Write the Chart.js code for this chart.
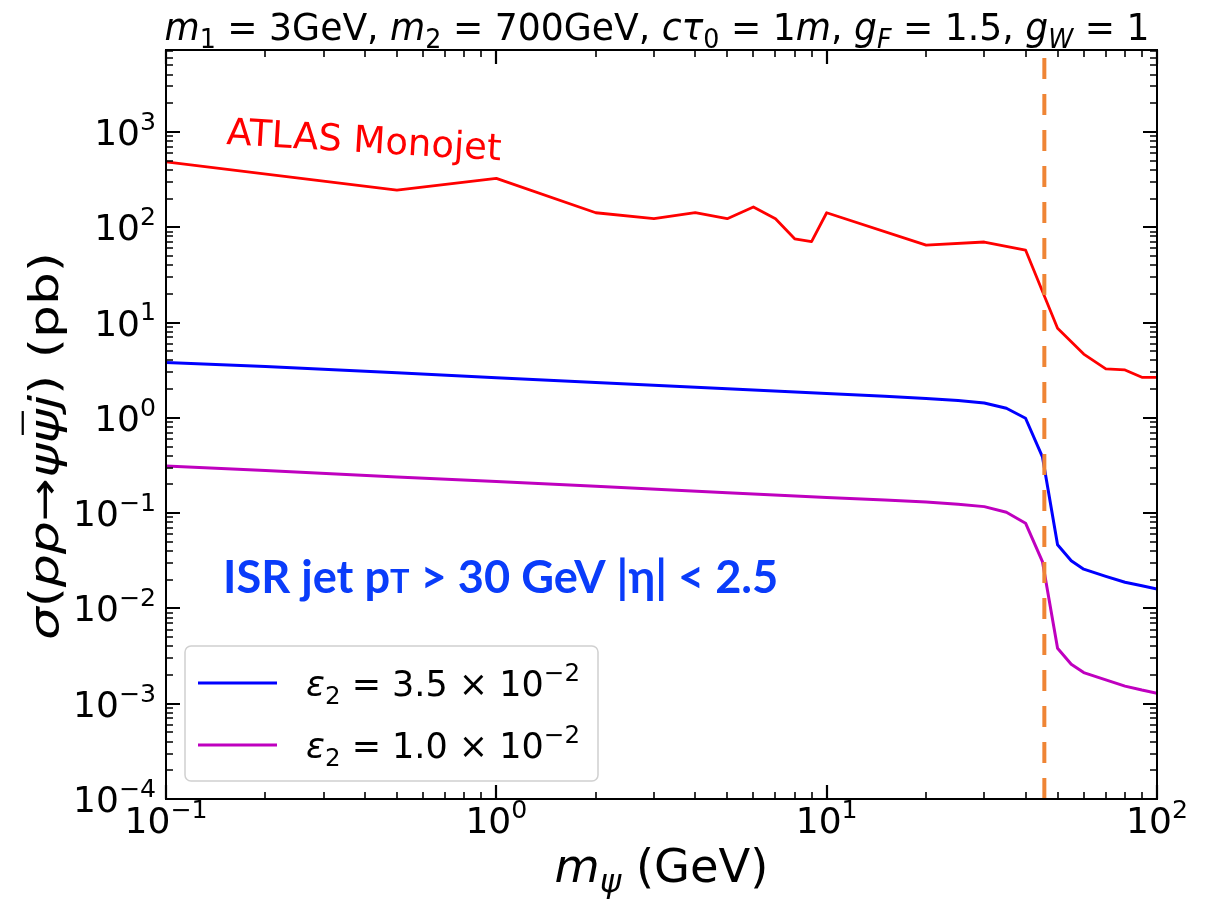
<!DOCTYPE html>
<html><head><meta charset="utf-8">
<script src="https://cdn.jsdelivr.net/npm/chart.js@4.4.0/dist/chart.umd.min.js"></script>
<style>html,body{margin:0;padding:0;background:#fff;}canvas{display:block;}</style>
</head><body>
<div style="width:1205px;height:899px;"><canvas id="c" width="1205" height="899"></canvas></div>
<script>
// ---------- data ----------
const massAtlas = [0.1, 0.5, 1, 2, 3, 4, 5, 6, 7, 8, 9, 10, 20, 30, 40, 50, 60, 70, 80, 90, 100];
const atlasMonojet = [486, 245, 326, 142, 123, 142, 123, 163, 123, 75.7, 70.5, 142, 65, 70, 57.7, 8.7, 4.67, 3.27, 3.18, 2.66, 2.66];

const massPsi = [0.1, 0.2, 0.5, 1, 2, 5, 10, 15, 20, 25, 30, 35, 40, 45, 50, 55, 60, 70, 80, 90, 100];
const sigmaEps35 = [3.8, 3.45, 2.97, 2.63, 2.35, 2.02, 1.80, 1.68, 1.60, 1.52, 1.43, 1.26, 0.99, 0.39, 0.0465, 0.0316, 0.0258, 0.0217, 0.0188, 0.0173, 0.016];
const sigmaEps10 = [0.313, 0.28, 0.24, 0.215, 0.191, 0.164, 0.146, 0.137, 0.131, 0.124, 0.117, 0.102, 0.0784, 0.031, 0.00382, 0.00259, 0.00212, 0.00178, 0.00153, 0.00139, 0.00129];

const zMassHalf = 45.6;           // vertical dashed line position
const xTickExps = [-1, 0, 1, 2];  // tick labels 10^n on x
const yTickExps = [-4, -3, -2, -1, 0, 1, 2, 3];
const xMin = 0.1, xMax = 100;
const yMin = 1e-4, yMax = Math.pow(10, 3.86);

const legendLabels = [
  [{t:'ε',it:1},{t:'2',sub:1},{t:' = 3.5 × 10'},{t:'−2',sup:1}],
  [{t:'ε',it:1},{t:'2',sub:1},{t:' = 1.0 × 10'},{t:'−2',sup:1}]
];

// ---------- helpers ----------
const FAM = '"DejaVu Sans", sans-serif';
function fontFor(seg, size, fam) {
  const s = (seg.sub || seg.sup) ? size * 0.7 : (seg.scale ? size * seg.scale : size);
  return (seg.it ? 'italic ' : '') + (seg.bold ? 'bold ' : '') + s.toFixed(1) + 'px ' + (fam || FAM);
}
function richWidth(ctx, segs, size, fam) {
  let w = 0;
  for (const s of segs) { ctx.font = fontFor(s, size, fam); w += ctx.measureText(s.t).width; }
  return w;
}
function drawRich(ctx, segs, x, y, size, align, color, fam) {
  const w = richWidth(ctx, segs, size, fam);
  let cx = align === 'center' ? x - w / 2 : (align === 'right' ? x - w : x);
  ctx.fillStyle = color || '#000';
  ctx.textBaseline = 'alphabetic';
  ctx.textAlign = 'left';
  for (const s of segs) {
    ctx.font = fontFor(s, size, fam);
    let yy = y;
    if (s.sub) yy = y + size * 0.22;
    if (s.sup) yy = y - size * 0.42;
    ctx.fillText(s.t, cx, yy);
    const sw = ctx.measureText(s.t).width;
    if (s.bar) {
      ctx.save();
      ctx.strokeStyle = color || '#000';
      ctx.lineWidth = size * 0.055;
      ctx.beginPath();
      ctx.moveTo(cx + sw * 0.25, yy - size * 0.86);
      ctx.lineTo(cx + sw * 0.95, yy - size * 0.86);
      ctx.stroke();
      ctx.restore();
    }
    cx += sw;
  }
  return w;
}
function drawRichFit(ctx, segs, x, y, width, align, color, fam) {
  const w0 = richWidth(ctx, segs, 40, fam);
  const size = 40 * width / w0;
  drawRich(ctx, segs, x, y, size, align, color, fam);
}
// fixed font size, horizontally condensed to fit a width
function drawRichCondensed(ctx, segs, x, y, size, width, align, color, fam) {
  const w0 = richWidth(ctx, segs, size, fam);
  const hs = width / w0;
  ctx.save();
  ctx.translate(x, y);
  ctx.scale(hs, 1);
  drawRich(ctx, segs, 0, 0, size, align, color, fam);
  ctx.restore();
}

// ---------- custom drawing plugin: frame, ticks, labels, annotations ----------
const decorPlugin = {
  id: 'decor',
  afterDraw(chart) {
    const ctx = chart.ctx;
    const xs = chart.scales.x, ys = chart.scales.y;
    const ca = chart.chartArea;
    const L = ca.left, R = ca.right, T = ca.top, B = ca.bottom;
    ctx.save();

    // ticks (inward, all four sides)
    ctx.strokeStyle = '#000';
    ctx.lineCap = 'butt';
    function tickX(v, len, lw) {
      const px = Math.round(xs.getPixelForValue(v));
      ctx.lineWidth = lw;
      ctx.beginPath();
      ctx.moveTo(px, B); ctx.lineTo(px, B - len);
      ctx.moveTo(px, T); ctx.lineTo(px, T + len);
      ctx.stroke();
    }
    function tickY(v, len, lw) {
      const py = Math.round(ys.getPixelForValue(v));
      ctx.lineWidth = lw;
      ctx.beginPath();
      ctx.moveTo(L, py); ctx.lineTo(L + len, py);
      ctx.moveTo(R, py); ctx.lineTo(R - len, py);
      ctx.stroke();
    }
    for (let e = -1; e <= 2; e++) {
      tickX(Math.pow(10, e), 14, 2.2);
      if (e < 2) for (let m = 2; m <= 9; m++) tickX(m * Math.pow(10, e), 7, 1.6);
    }
    for (let e = -4; e <= 3; e++) {
      tickY(Math.pow(10, e), 14, 2.2);
      for (let m = 2; m <= 9; m++) {
        const v = m * Math.pow(10, e);
        if (v <= yMax) tickY(v, 7, 1.6);
      }
    }

    // frame
    ctx.lineWidth = 2;
    ctx.strokeRect(L, T, R - L, B - T);

    // tick labels
    const TS = 36;
    for (const e of xTickExps) {
      const px = xs.getPixelForValue(Math.pow(10, e));
      drawRich(ctx, [{t:'10'},{t:(e < 0 ? '−' : '') + Math.abs(e), sup:1}], px, B + 34, TS, 'center');
    }
    for (const e of yTickExps) {
      const py = ys.getPixelForValue(Math.pow(10, e));
      drawRich(ctx, [{t:'10'},{t:(e < 0 ? '−' : '') + Math.abs(e), sup:1}], L - 10, py + 13, TS, 'right');
    }

    // axis labels
    drawRichFit(ctx, [{t:'m',it:1},{t:'ψ',it:1,sub:1},{t:' (GeV)'}], (L + R) / 2, 882, 214, 'center');
    ctx.save();
    ctx.translate(44, 446);
    ctx.rotate(-Math.PI / 2);
    drawRichCondensed(ctx, [{t:'σ',it:1},{t:'('},{t:'pp',it:1},{t:'→'},{t:'ψ',it:1},{t:'ψ',it:1,bar:1},{t:'j',it:1},{t:')'},{t:' (pb)'}], 0, 14, 41, 388, 'center');
    ctx.restore();

    // title
    drawRichCondensed(ctx, [
      {t:'m',it:1},{t:'1',sub:1},{t:' = 3GeV, '},
      {t:'m',it:1},{t:'2',sub:1},{t:' = 700GeV, '},
      {t:'cτ',it:1},{t:'0',sub:1},{t:' = 1'},{t:'m',it:1},{t:', '},
      {t:'g',it:1},{t:'F',it:1,sub:1},{t:' = 1.5, '},
      {t:'g',it:1},{t:'W',it:1,sub:1},{t:' = 1'}
    ], 657, 40, 37.5, 985, 'center');

    // ATLAS Monojet annotation
    ctx.save();
    ctx.translate(226, 144);
    ctx.rotate(3.4 * Math.PI / 180);
    ctx.font = '37px ' + FAM;
    ctx.fillStyle = '#ff0000';
    ctx.textAlign = 'left';
    ctx.textBaseline = 'alphabetic';
    ctx.fillText('ATLAS Monojet', 0, 0);
    ctx.restore();

    // ISR text (bold)
    const isrSegs = [{t:'ISR jet p',bold:1},{t:'T',bold:1,scale:0.72},{t:' > 30 GeV |η| < 2.5',bold:1}];
    drawRichFit(ctx, isrSegs, 223, 593, 555, 'left', '#0a3cfa', 'Lato, "Open Sans", sans-serif');

    // legend
    const bx = 185, by = 646, bw = 413, bh = 135, r = 6;
    ctx.beginPath();
    ctx.moveTo(bx + r, by);
    ctx.arcTo(bx + bw, by, bx + bw, by + bh, r);
    ctx.arcTo(bx + bw, by + bh, bx, by + bh, r);
    ctx.arcTo(bx, by + bh, bx, by, r);
    ctx.arcTo(bx, by, bx + bw, by, r);
    ctx.closePath();
    ctx.fillStyle = 'rgba(255,255,255,0.8)';
    ctx.fill();
    ctx.strokeStyle = '#d0d0d0';
    ctx.lineWidth = 1.5;
    ctx.stroke();
    const legColors = ['#0000ff', '#bf00bf'];
    const legY = [683, 745];
    for (let i = 0; i < 2; i++) {
      ctx.strokeStyle = legColors[i];
      ctx.lineWidth = 3;
      ctx.beginPath();
      ctx.moveTo(198, legY[i]); ctx.lineTo(277, legY[i]);
      ctx.stroke();
      drawRichFit(ctx, legendLabels[i], 306, legY[i] + 13, 274, 'left');
    }
    ctx.restore();
  }
};

const toXY = (xsArr, ysArr) => xsArr.map((x, i) => ({x, y: ysArr[i]}));

new Chart(document.getElementById('c'), {
  type: 'line',
  data: {
    datasets: [
      { label: 'Z/2', data: [{x: zMassHalf, y: yMin}, {x: zMassHalf, y: yMax}],
        borderColor: '#ef8535', borderWidth: 4, borderDash: [21, 15], pointRadius: 0, order: 0 },
      { label: 'ATLAS Monojet', data: toXY(massAtlas, atlasMonojet),
        borderColor: '#ff0000', borderWidth: 2.8, pointRadius: 0, order: 1 },
      { label: 'eps2=3.5e-2', data: toXY(massPsi, sigmaEps35),
        borderColor: '#0000ff', borderWidth: 3, pointRadius: 0, order: 2 },
      { label: 'eps2=1.0e-2', data: toXY(massPsi, sigmaEps10),
        borderColor: '#bf00bf', borderWidth: 3, pointRadius: 0, order: 3 }
    ]
  },
  options: {
    responsive: false,
    devicePixelRatio: 1,
    animation: false,
    layout: { padding: { left: 166, right: 48, top: 50, bottom: 100 } },
    plugins: { legend: { display: false }, tooltip: { enabled: false } },
    elements: { line: { tension: 0, fill: false, borderJoinStyle: 'round' } },
    scales: {
      x: { type: 'logarithmic', min: xMin, max: xMax, display: false },
      y: { type: 'logarithmic', min: yMin, max: yMax, display: false }
    }
  },
  plugins: [decorPlugin]
});
</script>
</body></html>
